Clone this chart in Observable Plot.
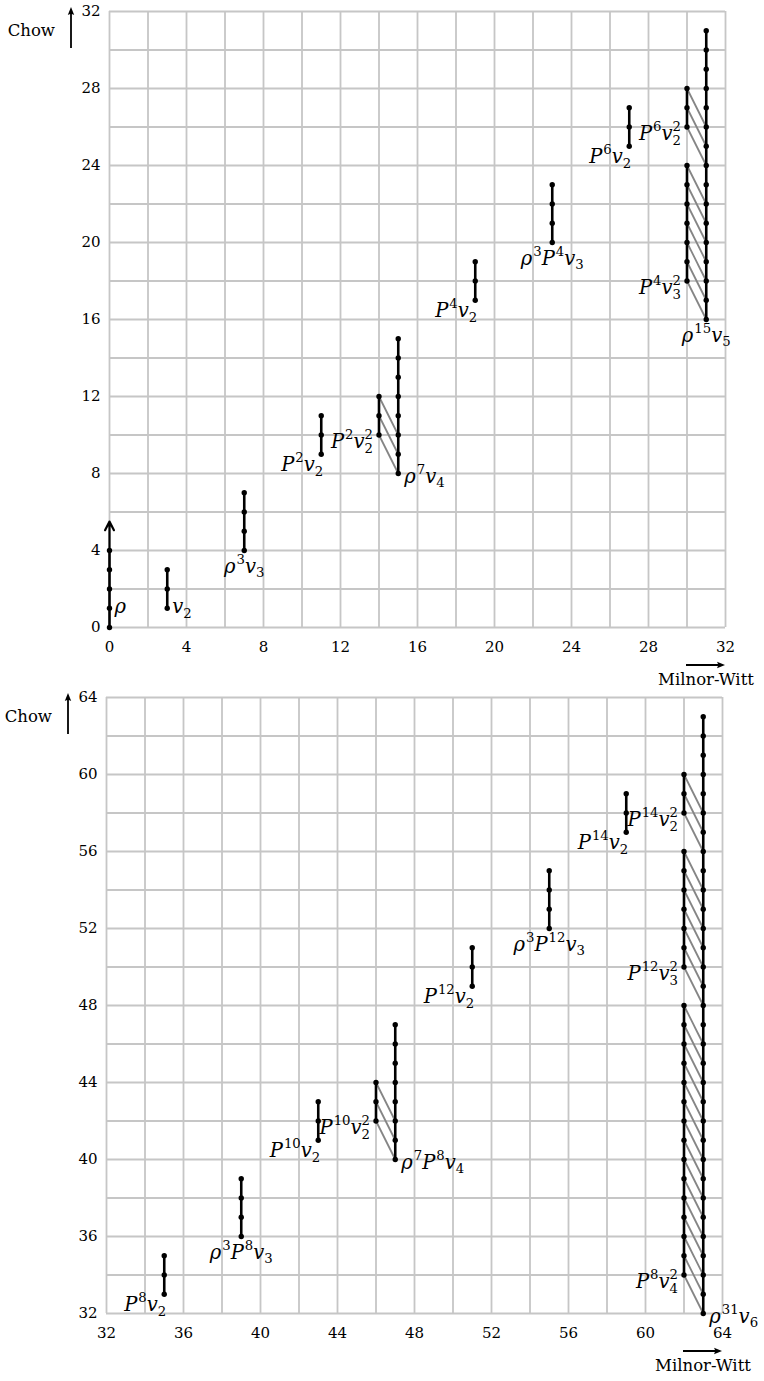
<!DOCTYPE html>
<html><head><meta charset="utf-8">
<script src="https://cdn.jsdelivr.net/npm/d3@7"></script>
<script src="https://cdn.jsdelivr.net/npm/@observablehq/plot@0.6"></script>
<style>
body{margin:0;background:#fff;width:764px;}
svg{display:block;overflow:visible;}
</style></head><body><div id="chart"></div>
<script>
// ---------- DATA ----------
// Towers: Milnor-Witt degree x, list of Chow degrees of the generators joined by vertical lines
const topTowers = [
  {x: 0,  chow: [0, 1, 2, 3, 4]},
  {x: 3,  chow: [1, 2, 3]},
  {x: 7,  chow: [4, 5, 6, 7]},
  {x: 11, chow: [9, 10, 11]},
  {x: 14, chow: [10, 11, 12]},
  {x: 15, chow: [8, 9, 10, 11, 12, 13, 14, 15]},
  {x: 19, chow: [17, 18, 19]},
  {x: 23, chow: [20, 21, 22, 23]},
  {x: 27, chow: [25, 26, 27]},
  {x: 30, chow: [26, 27, 28]},
  {x: 30, chow: [18, 19, 20, 21, 22, 23, 24]},
  {x: 31, chow: [16, 17, 18, 19, 20, 21, 22, 23, 24, 25, 26, 27, 28, 29, 30, 31]}
];
const bottomTowers = [
  {x: 35, chow: [33, 34, 35]},
  {x: 39, chow: [36, 37, 38, 39]},
  {x: 43, chow: [41, 42, 43]},
  {x: 46, chow: [42, 43, 44]},
  {x: 47, chow: [40, 41, 42, 43, 44, 45, 46, 47]},
  {x: 51, chow: [49, 50, 51]},
  {x: 55, chow: [52, 53, 54, 55]},
  {x: 59, chow: [57, 58, 59]},
  {x: 62, chow: [58, 59, 60]},
  {x: 62, chow: [50, 51, 52, 53, 54, 55, 56]},
  {x: 62, chow: [34, 35, 36, 37, 38, 39, 40, 41, 42, 43, 44, 45, 46, 47, 48]},
  {x: 63, chow: [32, 33, 34, 35, 36, 37, 38, 39, 40, 41, 42, 43, 44, 45, 46, 47,
                 48, 49, 50, 51, 52, 53, 54, 55, 56, 57, 58, 59, 60, 61, 62, 63]}
];
// Gray differentials: generator (fromX, from[i]) joined to (toX, to[i])
const topDiffs = [
  {fromX: 14, from: [10, 11, 12], toX: 15, to: [8, 9, 10]},
  {fromX: 30, from: [26, 27, 28], toX: 31, to: [24, 25, 26]},
  {fromX: 30, from: [18, 19, 20, 21, 22, 23, 24], toX: 31, to: [16, 17, 18, 19, 20, 21, 22]}
];
const bottomDiffs = [
  {fromX: 46, from: [42, 43, 44], toX: 47, to: [40, 41, 42]},
  {fromX: 62, from: [58, 59, 60], toX: 63, to: [56, 57, 58]},
  {fromX: 62, from: [50, 51, 52, 53, 54, 55, 56], toX: 63, to: [48, 49, 50, 51, 52, 53, 54]},
  {fromX: 62, from: [34, 35, 36, 37, 38, 39, 40, 41, 42, 43, 44, 45, 46, 47, 48], toX: 63,
   to: [32, 33, 34, 35, 36, 37, 38, 39, 40, 41, 42, 43, 44, 45, 46]}
];
// The ρ-tower continues upward (arrow)
const topArrows = [{x: 0, from: 4, to: 5.5}];
const bottomArrows = [];
// Labels (TeX-like markup) and on which side of their generator they sit
const topLabels = [
  {x: 0,  y: 1,  tex: "ρ",          side: "right"},
  {x: 3,  y: 1,  tex: "v_2",        side: "right"},
  {x: 7,  y: 4,  tex: "ρ^3v_3",     side: "below"},
  {x: 11, y: 9,  tex: "P^2v_2",     side: "belowleft"},
  {x: 14, y: 10, tex: "P^2v_2^2",   side: "left"},
  {x: 15, y: 8,  tex: "ρ^7v_4",     side: "belowright"},
  {x: 19, y: 17, tex: "P^4v_2",     side: "belowleft"},
  {x: 23, y: 20, tex: "ρ^3P^4v_3",  side: "below"},
  {x: 27, y: 25, tex: "P^6v_2",     side: "belowleft"},
  {x: 30, y: 26, tex: "P^6v_2^2",   side: "left"},
  {x: 30, y: 18, tex: "P^4v_3^2",   side: "left"},
  {x: 31, y: 16, tex: "ρ^{15}v_5",  side: "below"}
];
const bottomLabels = [
  {x: 35, y: 33, tex: "P^8v_2",        side: "belowleft"},
  {x: 39, y: 36, tex: "ρ^3P^8v_3",     side: "below"},
  {x: 43, y: 41, tex: "P^{10}v_2",     side: "belowleft"},
  {x: 46, y: 42, tex: "P^{10}v_2^2",   side: "left"},
  {x: 47, y: 40, tex: "ρ^7P^8v_4",     side: "belowright"},
  {x: 51, y: 49, tex: "P^{12}v_2",     side: "belowleft"},
  {x: 55, y: 52, tex: "ρ^3P^{12}v_3",  side: "below"},
  {x: 59, y: 57, tex: "P^{14}v_2",     side: "belowleft"},
  {x: 62, y: 58, tex: "P^{14}v_2^2",   side: "left"},
  {x: 62, y: 50, tex: "P^{12}v_3^2",   side: "left"},
  {x: 62, y: 34, tex: "P^8v_4^2",      side: "left"},
  {x: 63, y: 32, tex: "ρ^{31}v_6",     side: "belowright"}
];
// Axes
const topDomain = [0, 32];
const bottomDomain = [32, 64];
const topTicks = [0, 4, 8, 12, 16, 20, 24, 28, 32];
const bottomTicks = [32, 36, 40, 44, 48, 52, 56, 60, 64];
const topGrid = [0, 2, 4, 6, 8, 10, 12, 14, 16, 18, 20, 22, 24, 26, 28, 30, 32];
const bottomGrid = [32, 34, 36, 38, 40, 42, 44, 46, 48, 50, 52, 54, 56, 58, 60, 62, 64];
const yTitle = "Chow";
const xTitle = "Milnor-Witt";

// ---------- STYLE ----------
const FONT = "'DejaVu Serif', 'Liberation Serif', serif";
const TICK_FS = 15, TITLE_FS = 16.5, LABEL_FS = 19.5;
const GRID = "#c6c6c6";
const SIDES = {
  right:      {textAnchor: "start",  dx: 5,  dy: 5},
  belowright: {textAnchor: "start",  dx: 6,  dy: 9},
  below:      {textAnchor: "middle", dx: 0,  dy: 22},
  belowleft:  {textAnchor: "end",    dx: 2,  dy: 17},
  left:       {textAnchor: "end",    dx: -6, dy: 13}
};

function parseTex(s) {
  const out = []; let i = 0;
  const grab = () => {
    if (s[i] === "{") { const j = s.indexOf("}", i); const t = s.slice(i + 1, j); i = j + 1; return t; }
    return s[i++];
  };
  while (i < s.length) {
    const c = s[i];
    if (c === "^") { i++; out.push({type: "sup", t: grab()}); }
    else if (c === "_") { i++; out.push({type: "sub", t: grab()}); }
    else { out.push({type: "base", t: c}); i++; }
  }
  return out;
}

function renderTex(el, s, fs) {
  const segs = parseTex(s);
  const sfs = fs * 0.68;
  const SUP = -0.45 * fs, SUB = 0.25 * fs;
  let cur = 0, prevNode = null;
  el.textContent = "";
  const sel = d3.select(el);
  segs.forEach((g, k) => {
    const ts = sel.append("tspan").text(g.t);
    let target = 0;
    if (g.type === "base") {
      ts.attr("font-style", "italic").attr("font-size", fs);
    } else {
      ts.attr("font-style", "normal").attr("font-size", sfs);
      target = g.type === "sup" ? SUP : SUB;
      const prev = segs[k - 1];
      if (prev && prev.type !== "base" && prev.type !== g.type) {
        ts.attr("dx", -prevNode.getComputedTextLength());
      } else ts.attr("dx", g.type === "sup" ? 1 : 0);
    }
    if (target !== cur) ts.attr("dy", target - cur);
    cur = target;
    prevNode = ts.node();
  });
}

function arrowPath(g, x1, y1, x2, y2) {
  const len = Math.hypot(x2 - x1, y2 - y1), ux = (x2 - x1) / len, uy = (y2 - y1) / len;
  const hl = 8, hw = 3.2;
  const bx = x2 - ux * hl, by = y2 - uy * hl;
  g.append("line").attr("x1", x1).attr("y1", y1).attr("x2", bx + ux * 2).attr("y2", by + uy * 2)
    .attr("stroke", "black").attr("stroke-width", 1.8);
  g.append("path")
    .attr("d", `M${x2},${y2}L${bx - uy * hw},${by + ux * hw}Q${bx + ux * 2},${by + uy * 2} ${bx + uy * hw},${by - ux * hw}Z`)
    .attr("fill", "black");
}

function panel(root, cfg) {
  const {towers, diffs, arrows, labels, domain, ticks, grid, width, height, marginLeft, marginRight, marginTop, marginBottom} = cfg;
  const dots = towers.flatMap(t => t.chow.map(y => ({x: t.x, y})));
  const stems = towers.map(t => ({x: t.x, y1: d3.min(t.chow), y2: d3.max(t.chow)}));
  const links = diffs.flatMap(d => d.from.map((y, i) => ({x1: d.fromX, y1: y, x2: d.toX, y2: d.to[i]})));
  const labelMarks = Object.entries(SIDES).map(([side, o]) =>
    Plot.text(labels.filter(l => l.side === side), {
      x: "x", y: "y", text: "tex", lineAnchor: "bottom", fontSize: LABEL_FS, fill: "black", ...o
    }));
  const svg = Plot.plot({
    width, height, marginLeft, marginRight, marginTop, marginBottom,
    style: {fontFamily: FONT, fontSize: TICK_FS + "px", color: "black", overflow: "visible"},
    x: {domain, label: null},
    y: {domain, label: null},
    marks: [
      Plot.gridX({ticks: grid, stroke: GRID, strokeOpacity: 1, strokeWidth: 1.8}),
      Plot.gridY({ticks: grid, stroke: GRID, strokeOpacity: 1, strokeWidth: 1.8}),
      Plot.axisX({ticks, tickSize: 0, tickPadding: 14, fontSize: TICK_FS, label: null}),
      Plot.axisY({ticks, tickSize: 0, tickPadding: 9, fontSize: TICK_FS, label: null}),
      Plot.link(links, {x1: "x1", y1: "y1", x2: "x2", y2: "y2", stroke: "#858585", strokeWidth: 1.8}),
      Plot.ruleX(stems, {x: "x", y1: "y1", y2: "y2", stroke: "black", strokeWidth: 2.6}),
      Plot.arrow(arrows, {x1: "x", x2: "x", y1: "from", y2: "to", stroke: "black", strokeWidth: 2.2, headLength: 9, headAngle: 55}),
      Plot.dot(dots, {x: "x", y: "y", r: 2.7, fill: "black", stroke: null}),
      ...labelMarks
    ]
  });
  root.appendChild(svg);
  // Rich text for the labels (superscripts / subscripts)
  d3.select(svg).selectAll('g[aria-label="text"] text').each(function () {
    renderTex(this, this.textContent, LABEL_FS);
  });
  // Axis titles with arrows
  const L = marginLeft, T = marginTop, R = width - marginRight, B = height - marginBottom;
  const g = d3.select(svg).append("g").attr("font-family", FONT).attr("font-size", TITLE_FS);
  g.append("text").attr("x", L - 54).attr("y", T + 25).attr("text-anchor", "end").text(yTitle);
  arrowPath(g, L - 38, T + 37, L - 38, T - 4);
  arrowPath(g, R - 39, B + 38, R, B + 38);
  g.append("text").attr("x", R - 19).attr("y", B + 58).attr("text-anchor", "middle").text(xTitle);
  return svg;
}

const root = document.getElementById("chart");
panel(root, {
  towers: topTowers, diffs: topDiffs, arrows: topArrows, labels: topLabels,
  domain: topDomain, ticks: topTicks, grid: topGrid,
  width: 764, height: 687, marginLeft: 109, marginRight: 39, marginTop: 11, marginBottom: 60
});
panel(root, {
  towers: bottomTowers, diffs: bottomDiffs, arrows: bottomArrows, labels: bottomLabels,
  domain: bottomDomain, ticks: bottomTicks, grid: bottomGrid,
  width: 764, height: 694, marginLeft: 106, marginRight: 42, marginTop: 10, marginBottom: 68
});
</script></body></html>
